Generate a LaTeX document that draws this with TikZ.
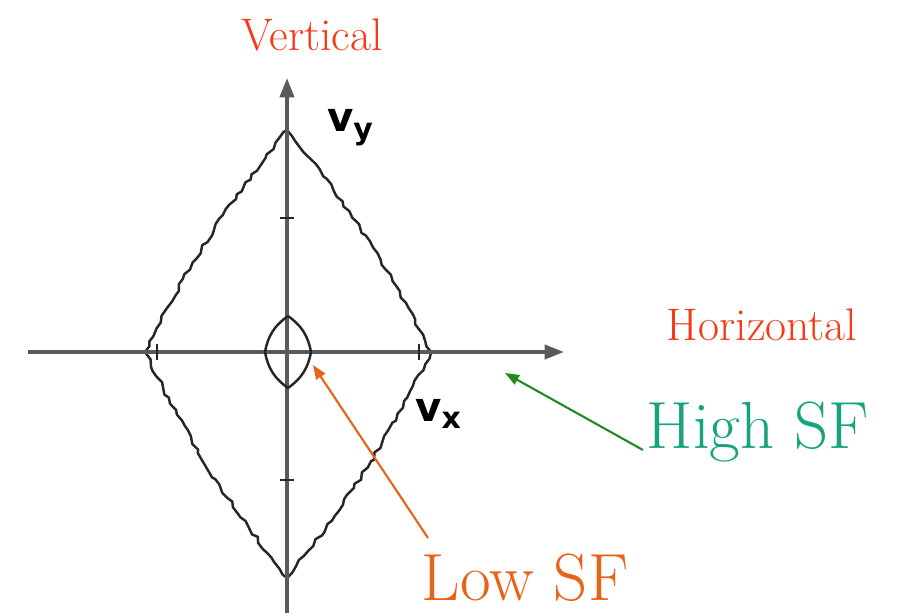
\documentclass[tikz,border=0pt]{standalone}
\usepackage{fontspec}
\newfontfamily\labfont{DejaVu Sans}
\usetikzlibrary{arrows.meta,decorations.pathmorphing}
\definecolor{vhred}{HTML}{F53A18}
\definecolor{loworange}{HTML}{EA6118}
\definecolor{highteal}{HTML}{17A37C}
\definecolor{arrgreen}{HTML}{1E8C1E}
\definecolor{axisgray}{HTML}{5A5A5A}
\begin{document}
\begin{tikzpicture}[x=0.02cm,y=-0.02cm,
  axis/.style={draw=axisgray,line width=2.1pt,-{Triangle[length=11pt,width=8pt]}},
  tickmark/.style={draw=black!85,line width=1.4pt},
  wiggle/.style={draw=black!85,line width=1.4pt,line join=round,
    decorate,decoration={random steps,segment length=3.6pt,amplitude=1.1pt}},
  lens/.style={draw=black!85,line width=1.4pt},
  toplab/.style={font=\fontsize{26}{30}\selectfont,text=vhred,inner sep=0pt},
  sflab/.style={font=\fontsize{38}{42}\selectfont,inner sep=0pt},
  vlab/.style={font=\labfont\bfseries\fontsize{23}{26}\selectfont,inner sep=0pt},
  pointer/.style={line width=1.2pt,-{Triangle[length=8pt,width=6pt]}}]
\useasboundingbox (0,0) rectangle (903,613);
\pgfmathsetseed{11}
% coordinates
\coordinate (origin) at (287,352);
\coordinate (xstart) at (28,352);
\coordinate (xend) at (564,352);
\coordinate (ystart) at (287,613);
\coordinate (yend) at (287,78);
\coordinate (btop) at (287,130);
\coordinate (bbot) at (287,578);
\coordinate (bleft) at (145,352);
\coordinate (bright) at (431,352);
\coordinate (stop) at (288,316);
\coordinate (sbot) at (288,388);
\coordinate (sleft) at (265,352);
\coordinate (sright) at (311,352);
% big diamond
\draw[wiggle] (btop) to[bend left=6] (bright) to[bend left=6] (bbot)
  to[bend left=6] (bleft) to[bend left=6] (btop);
% axes
\draw[axis] (xstart) -- (xend);
\draw[axis] (ystart) -- (yend);
% ticks
\coordinate (t1a) at (280,218); \coordinate (t1b) at (294,218);
\coordinate (t2a) at (280,480); \coordinate (t2b) at (294,480);
\coordinate (t3a) at (157,344); \coordinate (t3b) at (157,360);
\coordinate (t4a) at (419,344); \coordinate (t4b) at (419,360);
\draw[tickmark] (t1a) -- (t1b);
\draw[tickmark] (t2a) -- (t2b);
\draw[tickmark] (t3a) -- (t3b);
\draw[tickmark] (t4a) -- (t4b);
% small diamond
\draw[lens] (stop) to[bend left=22] (sright) to[bend left=22] (sbot)
  to[bend left=22] (sleft) to[bend left=22] (stop);
% labels
\node[toplab] (vert) at (312,35) {Vertical};
\node[toplab] (horiz) at (762,325) {Horizontal};
\node[vlab] (vy) at (350,128) {v\raisebox{-0.35ex}{\fontsize{17}{20}\selectfont y}};
\node[vlab] (vx) at (438,414) {v\raisebox{-0.35ex}{\fontsize{17}{20}\selectfont x}};
\node[sflab,text=highteal] (high) at (758,432) {High SF};
\node[sflab,text=loworange] (low) at (525,578) {Low SF};
% pointers
\coordinate (hstart) at (643,450);
\coordinate (htip) at (505,373);
\coordinate (lstart) at (428,538);
\coordinate (ltip) at (313,365);
\draw[pointer,arrgreen] (hstart) -- (htip);
\draw[pointer,loworange] (lstart) -- (ltip);
\end{tikzpicture}
\end{document}
